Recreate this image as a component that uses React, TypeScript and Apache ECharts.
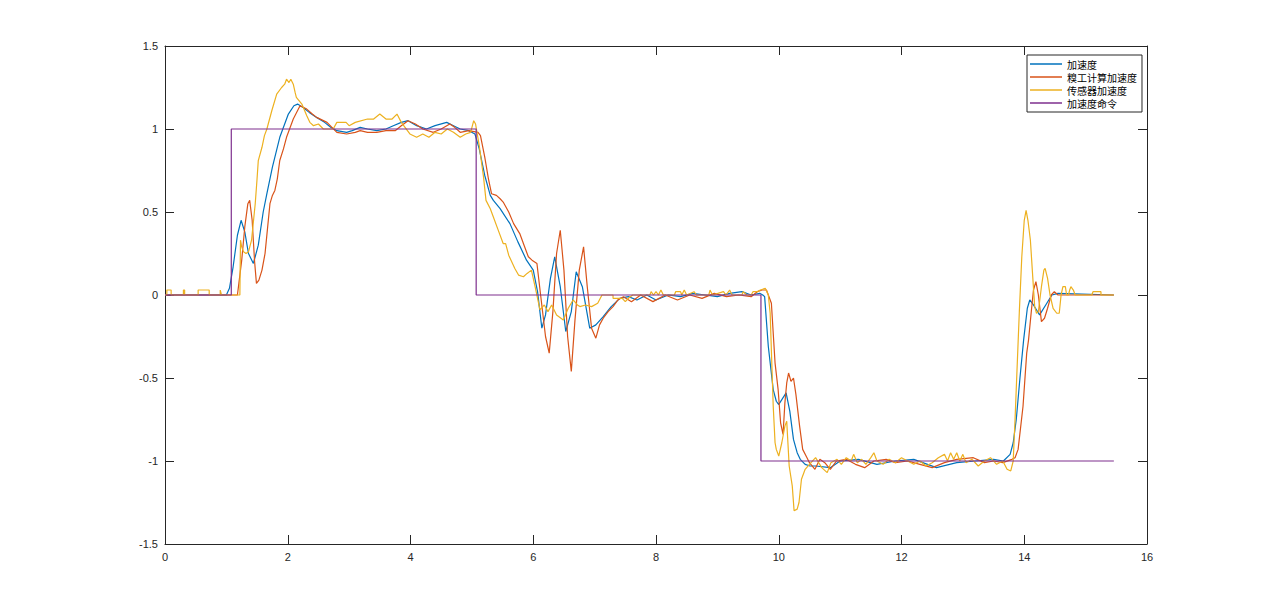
import { useEffect, useRef } from "react";
import * as echarts from "echarts";

// ── Series names (legend order) ───────────────────────────────────────────────
const NAMES = ["加速度", "糗工计算加速度", "传感器加速度", "加速度命令"];
const COLORS = ["#0072BD", "#D95319", "#EDB120", "#7E2F8E"];

// ── Data: [time s, value] ────────────────────────────────────────────────────
const ACCEL: [number, number][] = [
  [0, 0], [1.0, 0], [1.05, 0.04], [1.11, 0.17], [1.18, 0.36], [1.24, 0.45], [1.3, 0.38], [1.36, 0.25],
  [1.44, 0.19], [1.52, 0.3], [1.6, 0.5], [1.66, 0.61], [1.75, 0.77], [1.87, 0.95], [2.01, 1.09], [2.1, 1.14],
  [2.16, 1.15], [2.25, 1.13], [2.35, 1.1], [2.47, 1.07], [2.6, 1.04], [2.7, 1.01], [2.8, 0.99], [2.96, 0.98],
  [3.05, 0.99], [3.18, 1.01], [3.3, 1.0], [3.45, 0.99], [3.6, 1.0], [3.72, 1.02], [3.85, 1.04], [3.96, 1.05],
  [4.1, 1.02], [4.26, 1.0], [4.4, 1.02], [4.59, 1.04], [4.7, 1.02], [4.81, 1.0], [4.95, 0.99], [5.05, 0.97],
  [5.12, 0.88], [5.21, 0.72], [5.3, 0.6], [5.35, 0.57], [5.46, 0.52], [5.62, 0.43], [5.75, 0.32], [5.89, 0.21],
  [6.0, 0.15], [6.07, 0.02], [6.14, -0.2], [6.2, -0.12], [6.28, 0.1], [6.35, 0.23], [6.44, 0.05], [6.53, -0.22],
  [6.62, -0.1], [6.7, 0.14], [6.8, 0.05], [6.92, -0.2], [7.02, -0.18], [7.14, -0.13], [7.27, -0.07], [7.41, -0.02],
  [7.55, -0.01], [7.69, -0.03], [7.85, 0.0], [8.0, -0.03], [8.2, 0.0], [8.4, -0.01], [8.6, 0.01], [8.8, 0.0],
  [9.0, -0.01], [9.2, 0.01], [9.4, 0.02], [9.55, 0.0], [9.69, 0.01], [9.74, 0.0], [9.77, -0.01], [9.83, -0.31],
  [9.91, -0.57], [9.96, -0.64], [10.0, -0.66], [10.05, -0.63], [10.12, -0.59], [10.18, -0.7], [10.24, -0.87],
  [10.3, -0.95], [10.35, -0.99], [10.43, -1.02], [10.51, -1.03], [10.6, -1.03], [10.84, -1.04], [11.0, -1.0],
  [11.3, -0.99], [11.6, -1.02], [11.9, -1.0], [12.2, -0.99], [12.57, -1.04], [12.9, -1.01], [13.2, -1.0],
  [13.5, -0.99], [13.66, -1.0], [13.77, -0.96], [13.82, -0.89], [13.87, -0.75], [13.93, -0.5], [13.99, -0.27],
  [14.05, -0.08], [14.09, -0.03], [14.15, -0.06], [14.25, -0.12], [14.35, -0.06], [14.45, 0.0], [14.55, 0.01],
  [15.46, 0],
];

const CALC_ACCEL: [number, number][] = [
  [0, 0], [1.18, 0], [1.25, 0.21], [1.3, 0.41], [1.35, 0.55], [1.38, 0.57], [1.42, 0.45], [1.46, 0.2],
  [1.49, 0.07], [1.53, 0.09], [1.58, 0.15], [1.63, 0.25], [1.67, 0.4], [1.71, 0.55], [1.75, 0.6], [1.79, 0.63],
  [1.83, 0.7], [1.87, 0.81], [1.93, 0.88], [1.98, 0.95], [2.09, 1.06], [2.2, 1.14], [2.31, 1.12], [2.4, 1.09],
  [2.47, 1.07], [2.64, 1.04], [2.8, 0.98], [2.96, 0.97], [3.1, 0.98], [3.18, 0.99], [3.3, 0.98], [3.45, 0.98],
  [3.6, 0.99], [3.75, 0.99], [3.85, 1.02], [3.96, 1.05], [4.08, 1.03], [4.2, 1.0], [4.37, 0.98], [4.5, 1.0],
  [4.64, 1.03], [4.72, 1.01], [4.81, 0.98], [4.95, 0.99], [5.1, 0.98], [5.14, 0.96], [5.21, 0.83], [5.27, 0.7],
  [5.32, 0.61], [5.4, 0.6], [5.46, 0.58], [5.51, 0.56], [5.6, 0.5], [5.68, 0.43], [5.78, 0.37], [5.85, 0.3],
  [5.92, 0.23], [5.98, 0.21], [6.06, 0.19], [6.12, 0.0], [6.2, -0.25], [6.26, -0.35], [6.32, -0.1], [6.38, 0.25],
  [6.44, 0.39], [6.5, 0.15], [6.56, -0.25], [6.62, -0.46], [6.68, -0.15], [6.75, 0.15], [6.82, 0.29], [6.88, 0.05],
  [6.95, -0.2], [7.02, -0.26], [7.08, -0.18], [7.14, -0.14], [7.22, -0.1], [7.3, -0.07], [7.38, -0.03],
  [7.47, -0.01], [7.6, -0.04], [7.75, 0.0], [7.95, -0.04], [8.15, 0.0], [8.35, -0.03], [8.55, 0.0], [8.75, -0.02],
  [8.95, 0.01], [9.15, -0.01], [9.35, 0.0], [9.55, -0.01], [9.65, 0.02], [9.73, 0.03], [9.8, 0.03], [9.88, -0.05],
  [9.94, -0.41], [9.99, -0.57], [10.03, -0.77], [10.07, -0.84], [10.1, -0.65], [10.13, -0.53], [10.16, -0.47],
  [10.2, -0.52], [10.24, -0.5], [10.28, -0.6], [10.34, -0.79], [10.39, -0.93], [10.46, -0.98], [10.5, -1.01],
  [10.59, -1.05], [10.67, -0.99], [10.75, -1.01], [10.84, -1.05], [10.94, -1.0], [11.1, -0.99], [11.25, -1.02],
  [11.4, -1.04], [11.55, -1.0], [11.75, -0.99], [11.9, -1.01], [12.1, -1.0], [12.3, -1.02], [12.5, -1.04],
  [12.7, -1.01], [12.9, -0.99], [13.17, -0.98], [13.35, -1.01], [13.5, -1.0], [13.65, -1.01], [13.8, -0.99],
  [13.85, -0.98], [13.9, -0.93], [13.98, -0.67], [14.04, -0.35], [14.07, -0.27], [14.12, -0.08], [14.15, 0.03],
  [14.19, 0.08], [14.23, 0.0], [14.28, -0.16], [14.33, -0.14], [14.38, -0.08], [14.44, 0.0], [14.49, 0.02],
  [14.55, 0.0], [15.46, 0],
];

const SENSOR_ACCEL: [number, number][] = [
  [0, 0], [0.03, 0], [0.03, 0.03], [0.1, 0.03], [0.1, 0], [0.3, 0], [0.3, 0.03], [0.32, 0.03], [0.32, 0],
  [0.54, 0], [0.54, 0.03], [0.72, 0.03], [0.72, 0], [0.9, 0], [0.9, 0.03], [0.92, 0], [1.22, 0], [1.23, 0.33],
  [1.25, 0.29], [1.28, 0.26], [1.32, 0.25], [1.36, 0.26], [1.41, 0.33], [1.47, 0.55], [1.5, 0.7], [1.52, 0.81],
  [1.58, 0.89], [1.62, 0.96], [1.66, 1.0], [1.74, 1.11], [1.82, 1.21], [1.9, 1.25], [1.95, 1.27], [1.98, 1.3],
  [2.02, 1.28], [2.05, 1.3], [2.09, 1.27], [2.12, 1.22], [2.14, 1.19], [2.23, 1.15], [2.31, 1.08], [2.36, 1.04],
  [2.42, 1.02], [2.5, 1.03], [2.58, 1.0], [2.74, 1.0], [2.8, 1.04], [2.95, 1.04], [3.0, 1.02], [3.1, 1.04],
  [3.3, 1.06], [3.4, 1.06], [3.5, 1.09], [3.6, 1.06], [3.7, 1.06], [3.78, 1.09], [3.85, 1.04], [3.99, 0.97],
  [4.1, 0.95], [4.2, 0.97], [4.3, 0.95], [4.4, 0.98], [4.5, 0.97], [4.6, 1.0], [4.7, 0.98], [4.81, 0.95],
  [4.9, 0.97], [4.98, 0.98], [5.03, 1.05], [5.06, 1.03], [5.12, 0.9], [5.19, 0.71], [5.23, 0.57], [5.3, 0.52],
  [5.35, 0.47], [5.42, 0.4], [5.51, 0.31], [5.55, 0.31], [5.6, 0.24], [5.7, 0.16], [5.76, 0.12], [5.84, 0.11],
  [5.9, 0.13], [5.97, 0.15], [6.03, 0.05], [6.11, -0.09], [6.18, -0.06], [6.24, -0.1], [6.3, -0.06],
  [6.38, -0.12], [6.49, -0.15], [6.57, -0.08], [6.65, -0.03], [6.72, -0.06], [6.76, -0.07], [6.85, -0.06],
  [6.95, -0.07], [7.05, -0.05], [7.12, 0.0], [7.3, 0.0], [7.3, -0.02], [7.45, -0.02], [7.5, -0.04], [7.55, -0.02],
  [7.62, 0.0], [7.9, 0.0], [7.92, 0.02], [7.96, 0.0], [8.0, 0.02], [8.04, 0.0], [8.08, 0.03], [8.12, 0.0],
  [8.3, 0.0], [8.32, 0.02], [8.4, 0.02], [8.42, 0.0], [8.46, 0.03], [8.5, 0.0], [8.62, 0.02], [8.66, 0.0],
  [8.86, 0.0], [8.88, 0.03], [8.92, 0.0], [9.1, 0.02], [9.14, 0.0], [9.2, 0.03], [9.24, 0.0], [9.4, 0.0],
  [9.42, 0.02], [9.48, 0.0], [9.55, 0.0], [9.58, 0.02], [9.65, 0.02], [9.7, 0.03], [9.78, 0.04], [9.83, 0.0],
  [9.86, -0.11], [9.91, -0.67], [9.94, -0.89], [9.96, -0.93], [10.0, -0.97], [10.05, -0.89], [10.1, -0.79],
  [10.13, -0.76], [10.17, -1.03], [10.22, -1.15], [10.25, -1.3], [10.3, -1.29], [10.33, -1.25], [10.37, -1.11],
  [10.43, -1.05], [10.5, -1.02], [10.6, -0.98], [10.7, -1.04], [10.79, -1.07], [10.85, -1.01], [10.95, -0.99],
  [11.02, -1.02], [11.1, -0.98], [11.18, -1.0], [11.22, -0.96], [11.28, -1.01], [11.35, -0.99], [11.42, -1.02],
  [11.5, -0.98], [11.55, -0.95], [11.6, -1.0], [11.7, -1.02], [11.8, -0.99], [11.9, -1.01], [12.0, -0.98],
  [12.1, -1.0], [12.2, -1.02], [12.3, -1.0], [12.4, -1.03], [12.5, -1.01], [12.6, -0.98], [12.7, -0.96],
  [12.75, -1.0], [12.8, -0.95], [12.85, -0.99], [12.9, -0.95], [12.95, -1.0], [13.0, -0.96], [13.05, -1.01],
  [13.15, -0.99], [13.25, -1.03], [13.35, -1.0], [13.45, -0.98], [13.55, -1.02], [13.65, -1.0], [13.72, -1.05],
  [13.78, -1.06], [13.82, -1.0], [13.85, -0.75], [13.88, -0.47], [13.92, -0.1], [13.96, 0.23], [14.0, 0.45],
  [14.03, 0.51], [14.06, 0.45], [14.1, 0.33], [14.14, 0.1], [14.17, -0.07], [14.2, -0.11], [14.23, -0.1],
  [14.28, 0.05], [14.32, 0.15], [14.34, 0.16], [14.38, 0.1], [14.42, 0.0], [14.47, -0.08], [14.53, -0.11],
  [14.57, -0.11], [14.6, 0.0], [14.63, 0.05], [14.67, 0.05], [14.69, 0.0], [14.72, 0.0], [14.74, 0.03],
  [14.76, 0.05], [14.8, 0.03], [14.83, 0.0], [15.1, 0.0], [15.12, 0.02], [15.25, 0.02], [15.25, 0], [15.46, 0],
];

const COMMAND: [number, number][] = [
  [0, 0], [1.08, 0], [1.08, 1], [5.07, 1], [5.07, 0], [9.71, 0], [9.71, -1], [15.46, -1],
];

const AXIS_COLOR = "#262626";
const TICK_FONT = "Arial, 'Liberation Sans', sans-serif";

function boxAxis(position: string, showLabel: boolean, min: number, max: number, interval: number) {
  return {
    type: "value" as const,
    position,
    min,
    max,
    interval,
    axisLine: { show: true, onZero: false, lineStyle: { color: AXIS_COLOR, width: 1 } },
    axisTick: { show: true, inside: true, length: 9, lineStyle: { color: AXIS_COLOR, width: 1 } },
    axisLabel: { show: showLabel, color: AXIS_COLOR, fontSize: 11, fontFamily: TICK_FONT, margin: 7 },
    splitLine: { show: false },
  };
}

export default function App() {
  const ref = useRef<HTMLDivElement>(null);

  useEffect(() => {
    const el = ref.current;
    if (!el) return;
    const chart = echarts.init(el, null, { renderer: "svg" });
    const data = [ACCEL, CALC_ACCEL, SENSOR_ACCEL, COMMAND];
    chart.setOption({
      animation: false,
      backgroundColor: "#fff",
      grid: { left: 165, right: 121, top: 46, bottom: 68, containLabel: false },
      xAxis: [boxAxis("bottom", true, 0, 16, 2), boxAxis("top", false, 0, 16, 2)],
      yAxis: [boxAxis("left", true, -1.5, 1.5, 0.5), boxAxis("right", false, -1.5, 1.5, 0.5)],
      legend: {
        data: NAMES,
        orient: "vertical",
        left: 1027,
        top: 55,
        icon: "rect",
        itemWidth: 32,
        itemHeight: 1.5,
        itemGap: 1,
        padding: [3, 5, 3, 3],
        borderColor: AXIS_COLOR,
        borderWidth: 1,
        backgroundColor: "#fff",
        textStyle: {
          fontSize: 10,
          lineHeight: 12,
          color: "#000",
          fontFamily: "'Noto Sans CJK SC', sans-serif",
        },
      },
      series: NAMES.map((name, i) => ({
        name,
        type: "line",
        xAxisIndex: 0,
        yAxisIndex: 0,
        data: data[i],
        symbol: "none",
        showSymbol: false,
        lineStyle: { color: COLORS[i], width: 1.2 },
        itemStyle: { color: COLORS[i] },
      })),
    });
    return () => chart.dispose();
  }, []);

  return (
    <div
      ref={ref}
      style={{ position: "absolute", left: 0, top: 0, width: 1268, height: 612, background: "#fff" }}
    />
  );
}
